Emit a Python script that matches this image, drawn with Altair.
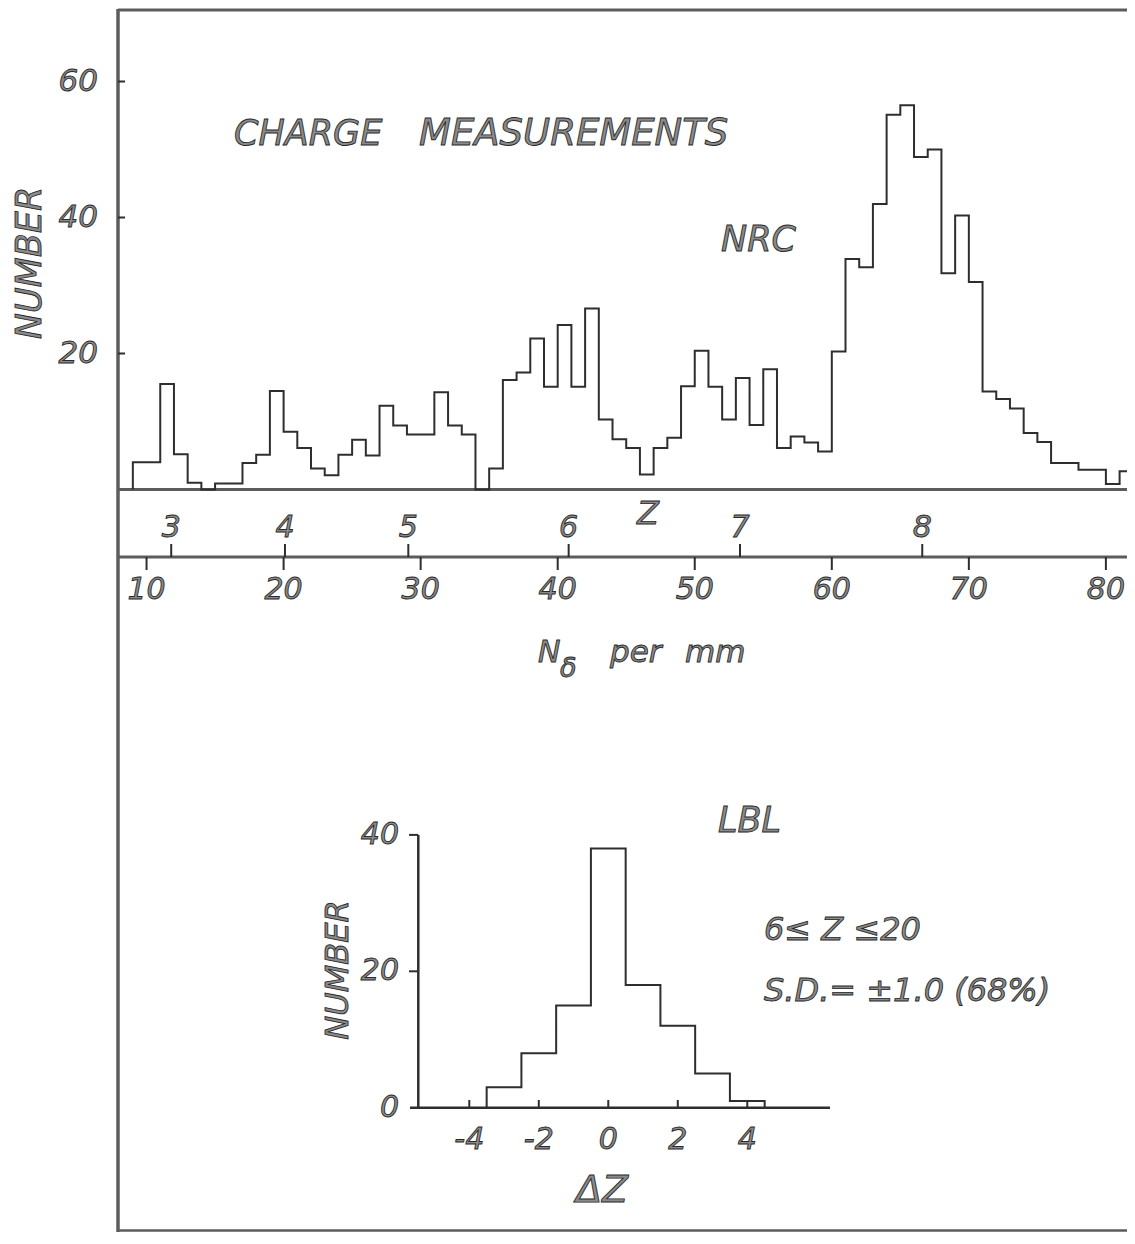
import altair as alt
import pandas as pd

# ---------------- data ----------------
# NRC histogram: N_delta per mm, 1-unit bins (left edges) and counts
NRC_BIN_LEFT = [9, 10, 11, 12, 13, 14, 15, 16, 17, 18,
                19, 20, 21, 22, 23, 24, 25, 26, 27, 28,
                29, 30, 31, 32, 33, 34, 35, 36, 37, 38,
                39, 40, 41, 42, 43, 44, 45, 46, 47, 48,
                49, 50, 51, 52, 53, 54, 55, 56, 57, 58,
                59, 60, 61, 62, 63, 64, 65, 66, 67, 68,
                69, 70, 71, 72, 73, 74, 75, 76, 77, 78,
                79, 80, 81]
NRC_COUNTS = [4.0, 4.0, 15.5, 5.2, 1.0, 0.0, 0.9, 0.9, 3.9, 5.1,
              14.5, 8.5, 6.1, 3.1, 2.1, 5.1, 7.3, 5.0, 12.3, 9.4,
              8.1, 8.1, 14.3, 9.4, 8.1, 0.0, 3.1, 16.1, 17.2, 22.2,
              15.1, 24.2, 15.1, 26.6, 10.3, 7.4, 6.1, 2.2, 6.1, 7.6,
              15.2, 20.4, 15.1, 10.3, 16.4, 9.5, 17.7, 6.1, 7.8, 6.9,
              5.6, 20.3, 33.9, 32.7, 42.0, 55.1, 56.5, 48.9, 50.0, 31.8,
              40.3, 30.5, 14.4, 13.3, 11.9, 8.3, 7.0, 3.9, 3.9, 2.9,
              2.9, 0.8, 2.7]
NRC_BIN_WIDTH = 1

N_TICKS = [10, 20, 30, 40, 50, 60, 70, 80]
Z_VALUES = [3, 4, 5, 6, 7, 8]
Z_AT_N = [11.8, 20.1, 29.1, 40.8, 53.3, 66.6]
TOP_NUMBER_TICKS = [20, 40, 60]

# LBL histogram: Delta Z bins (centres) and counts
LBL_DZ = [-3, -2, -1, 0, 1, 2, 3, 4]
LBL_COUNTS = [3, 8, 15, 38, 18, 12, 5, 1]
DZ_TICKS = [-4, -2, 0, 2, 4]
LBL_NUMBER_TICKS = [0, 20, 40]

# ---------------- layout ----------------
W, H = 1009, 1224
PAD_LEFT = 110

top_x = alt.Scale(domain=[7.917, 7.917 + W / 13.705], nice=False, zero=False)
top_y = alt.Scale(domain=[(481.5 - H) / 6.8, 481.5 / 6.8], nice=False, zero=False)
bot_x = alt.Scale(domain=[-14.109, -14.109 + W / 34.75], nice=False, zero=False)
bot_y = alt.Scale(domain=[(1099.7 - H) / 6.82, 1099.7 / 6.82], nice=False, zero=False)

FRAME = "#5c5c5c"
INK = "#2e2e2e"
TXT = dict(font="DejaVu Sans", fontStyle="italic", fill="#8a8a8a",
           stroke="#2a2a2a", strokeWidth=0.9)
NB = "\u00a0"

one = pd.DataFrame({"k": [0]})


def step_points(lefts, counts, width, close_end):
    xs, ys = [lefts[0]], [0.0]
    for l, c in zip(lefts, counts):
        xs += [l, l + width]
        ys += [c, c]
    if close_end:
        xs.append(lefts[-1] + width)
        ys.append(0.0)
    return pd.DataFrame({"x": xs, "y": ys, "idx": list(range(len(xs)))})


nrc_df = step_points(NRC_BIN_LEFT, NRC_COUNTS, NRC_BIN_WIDTH, close_end=False)
lbl_df = step_points([d - 0.5 for d in LBL_DZ], LBL_COUNTS, 1, close_end=True)

layers = []

# ---- frame lines ----
layers.append(alt.Chart(one).mark_rule(color=FRAME, strokeWidth=3.5).encode(
    x=alt.value(0), y=alt.value(1), y2=alt.value(H)))
layers.append(alt.Chart(one).mark_rule(color=FRAME, strokeWidth=3).encode(
    x=alt.value(0), x2=alt.value(W), y=alt.value(2)))
layers.append(alt.Chart(one).mark_rule(color=FRAME, strokeWidth=2.5).encode(
    x=alt.value(0), x2=alt.value(W), y=alt.value(H - 1.5)))

# ---- top histogram ----
layers.append(alt.Chart(one).mark_rule(color=FRAME, strokeWidth=3).encode(
    x=alt.value(0), x2=alt.value(W),
    y=alt.Y(datum=0, type="quantitative", scale=top_y, axis=None)))
layers.append(alt.Chart(one).mark_rule(color=FRAME, strokeWidth=3).encode(
    x=alt.value(0), x2=alt.value(W), y=alt.value(549)))

layers.append(alt.Chart(nrc_df).mark_line(color=INK, strokeWidth=2, strokeJoin="miter").encode(
    x=alt.X("x:Q", scale=top_x, axis=None),
    y=alt.Y("y:Q", scale=top_y, axis=None),
    order="idx:Q"))

# left axis ticks / labels
ytick_df = pd.DataFrame({"v": TOP_NUMBER_TICKS, "t": [str(v) for v in TOP_NUMBER_TICKS]})
layers.append(alt.Chart(ytick_df).mark_rule(color=INK, strokeWidth=2).encode(
    x=alt.value(0), x2=alt.value(7),
    y=alt.Y("v:Q", scale=top_y, axis=None)))
layers.append(alt.Chart(ytick_df).mark_text(align="right", baseline="middle", fontSize=31, **TXT).encode(
    x=alt.value(-20), y=alt.Y("v:Q", scale=top_y, axis=None), text="t:N"))

# N axis ticks / labels
nt_df = pd.DataFrame({"n": N_TICKS, "t": [str(v) for v in N_TICKS]})
layers.append(alt.Chart(nt_df).mark_rule(color=INK, strokeWidth=2).encode(
    x=alt.X("n:Q", scale=top_x, axis=None), y=alt.value(549), y2=alt.value(562)))
layers.append(alt.Chart(nt_df).mark_text(align="center", baseline="middle", fontSize=30, **TXT).encode(
    x=alt.X("n:Q", scale=top_x, axis=None), y=alt.value(582), text="t:N"))

# Z scale ticks / labels
z_df = pd.DataFrame({"n": Z_AT_N, "t": [str(z) for z in Z_VALUES]})
layers.append(alt.Chart(z_df).mark_rule(color=INK, strokeWidth=2).encode(
    x=alt.X("n:Q", scale=top_x, axis=None), y=alt.value(536), y2=alt.value(549)))
layers.append(alt.Chart(z_df).mark_text(align="center", baseline="middle", fontSize=30, **TXT).encode(
    x=alt.X("n:Q", scale=top_x, axis=None), y=alt.value(520), text="t:N"))


def txt(text, x, y, size, align="left", baseline="alphabetic", angle=None):
    kw = dict(align=align, baseline=baseline, fontSize=size, **TXT)
    if angle is not None:
        kw["angle"] = angle
    return alt.Chart(one).mark_text(text=text, **kw).encode(x=alt.value(x), y=alt.value(y))


# texts of the top panel
layers.append(txt("Z", 530, 506, 32, align="center", baseline="middle"))
layers.append(txt("CHARGE", 116, 137, 35))
layers.append(txt("MEASUREMENTS", 301, 137, 37))
layers.append(txt("NRC", 603, 243, 35))
layers.append(txt("NUMBER", -88, 255, 35, align="center", baseline="middle", angle=270))
layers.append(txt("N", 420, 654, 30))
layers.append(txt("δ", 442, 669, 27))
layers.append(txt("per", 492, 654, 31))
layers.append(txt("mm", 567, 654, 31))

# ---- bottom (LBL) histogram ----
layers.append(alt.Chart(one).mark_rule(color=INK, strokeWidth=2.5).encode(
    x=alt.value(300.3), y=alt.value(827), y2=alt.value(1099.7)))
layers.append(alt.Chart(one).mark_rule(color=INK, strokeWidth=2.5).encode(
    x=alt.value(292), x2=alt.value(712),
    y=alt.Y(datum=0, type="quantitative", scale=bot_y, axis=None)))

lyt_df = pd.DataFrame({"v": LBL_NUMBER_TICKS, "t": [str(v) for v in LBL_NUMBER_TICKS]})
layers.append(alt.Chart(lyt_df[lyt_df.v > 0]).mark_rule(color=INK, strokeWidth=2).encode(
    x=alt.value(291), x2=alt.value(300.3),
    y=alt.Y("v:Q", scale=bot_y, axis=None)))
layers.append(alt.Chart(lyt_df).mark_text(align="right", baseline="middle", fontSize=30, **TXT).encode(
    x=alt.value(281), y=alt.Y("v:Q", scale=bot_y, axis=None), text="t:N"))

dz_df = pd.DataFrame({"d": DZ_TICKS, "t": [str(d) for d in DZ_TICKS]})
layers.append(alt.Chart(dz_df).mark_rule(color=INK, strokeWidth=2).encode(
    x=alt.X("d:Q", scale=bot_x, axis=None), y=alt.value(1092), y2=alt.value(1099.7)))
layers.append(alt.Chart(dz_df).mark_text(align="center", baseline="middle", fontSize=30, **TXT).encode(
    x=alt.X("d:Q", scale=bot_x, axis=None), y=alt.value(1132), text="t:N"))

layers.append(alt.Chart(lbl_df).mark_line(color=INK, strokeWidth=2, strokeJoin="miter").encode(
    x=alt.X("x:Q", scale=bot_x, axis=None),
    y=alt.Y("y:Q", scale=bot_y, axis=None),
    order="idx:Q"))

layers.append(txt("NUMBER", 220, 962, 32, align="center", baseline="middle", angle=270))
layers.append(txt("ΔZ", 484, 1194, 38, align="center"))
layers.append(txt("LBL", 600, 824, 35))
layers.append(txt("6\u2264" + NB + "Z" + NB + "\u226420", 646, 932, 32))
layers.append(txt("S.D.=" + NB + "\u00b11.0" + NB + "(68%)", 646, 993, 32))

chart = alt.layer(*layers).resolve_scale(x="independent", y="independent").properties(
    width=W, height=H,
    autosize=alt.AutoSizeParams(type="none"),
    padding={"left": PAD_LEFT, "top": 0, "right": 0, "bottom": 0},
).configure_view(stroke=None)

chart.save("out.html", embed_options={"renderer": "svg", "actions": False})
